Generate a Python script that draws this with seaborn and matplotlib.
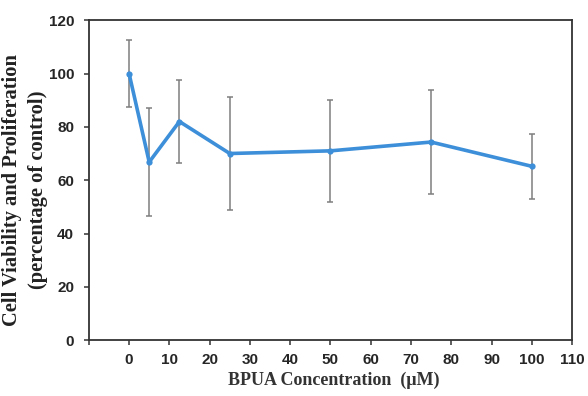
import numpy as np
import pandas as pd
import matplotlib
matplotlib.use("Agg")
import matplotlib.pyplot as plt
import seaborn as sns

# data
conc = [0, 5, 12.5, 25, 50, 75, 100]
viability = [100, 66.8, 82, 70, 71, 74.3, 65.2]
sd = [12.4, 20.2, 15.5, 21.3, 19.2, 19.6, 12.3]

df = pd.DataFrame({"conc": conc, "viability": viability, "sd": sd})

sns.set_style("white")
fig = plt.figure(figsize=(5.88, 3.96), dpi=100)
ax = fig.add_axes([0.151, 0.141, 0.822, 0.808])

ax.errorbar(df["conc"], df["viability"], yerr=df["sd"], fmt="none",
            ecolor="#7f7f7f", elinewidth=1.1, capsize=2.5, capthick=1.1, zorder=2)
sns.lineplot(data=df, x="conc", y="viability", ax=ax, color="#3d8fd9",
             linewidth=2.6, marker="o", markersize=4.5, markeredgewidth=0, zorder=3)

ax.set_xlim(-10, 110)
ax.set_ylim(0, 120)
ax.set_xticks(np.arange(-10, 111, 10))
ax.set_xticklabels([""] + [str(v) for v in range(0, 111, 10)])
ax.set_yticks(np.arange(0, 121, 20))

for s in ax.spines.values():
    s.set_color("#333333")
    s.set_linewidth(1.3)

ax.tick_params(axis="both", direction="out", length=3.6, width=1.1, color="#333333",
               labelsize=11, bottom=True, left=True)
ax.tick_params(axis="y", pad=7)
ax.tick_params(axis="x", pad=6)
for lbl in ax.get_xticklabels() + ax.get_yticklabels():
    lbl.set_family("Liberation Sans")
    lbl.set_fontweight("bold")

ax.set_xlabel("BPUA Concentration  (\u03bcM)", family="Liberation Serif",
              fontweight="bold", fontsize=13, color="#333333")
ax.xaxis.set_label_coords(0.507, -0.1)
ax.set_ylabel("Cell Viability and Proliferation\n(percentage of control)",
              family="Liberation Serif", fontweight="bold", fontsize=14.8,
              color="#222222", linespacing=1.35)
ax.yaxis.set_label_coords(-0.085, 0.469)

fig.savefig("out.png", dpi=100)
